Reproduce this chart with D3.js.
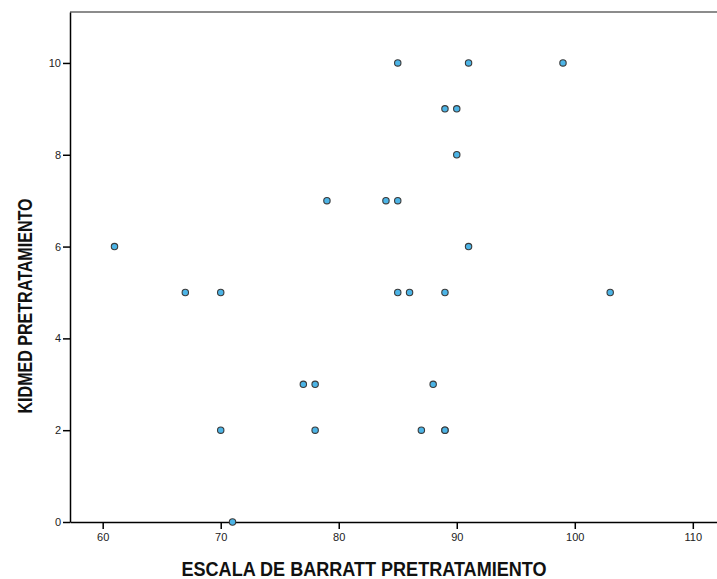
<!DOCTYPE html>
<html><head><meta charset="utf-8">
<script src="https://cdn.jsdelivr.net/npm/d3@7"></script>
<style>body{margin:0;background:#fff}svg{display:block}</style>
</head><body>
<svg id="c" width="717" height="579"></svg>
<script>
const barratt = [61,67,70,70,71,77,78,78,79,84,85,85,85,86,87,88,89,89,89,89,90,90,91,91,99,103];
const kidmed  = [ 6, 5, 5, 2, 0, 3, 3, 2, 7, 7, 7,10, 5, 5, 2, 3, 2, 2, 5, 9, 9, 8,10, 6,10, 5];
const xTicks = [60,70,80,90,100,110];
const yTicks = [0,2,4,6,8,10];
const xTitle = "ESCALA DE BARRATT PRETRATAMIENTO";
const yTitle = "KIDMED PRETRATAMIENTO";

const svg = d3.select("#c");
const L = 70, R = 717, T = 12, B = 522;
const x = d3.scaleLinear().domain([57.23, 112.05]).range([L, R]);
const y = d3.scaleLinear().domain([0, 11.11]).range([B, T]);

// top border
svg.append("line").attr("x1", L).attr("x2", R).attr("y1", T).attr("y2", T)
  .attr("stroke", "#8c8c8c").attr("stroke-width", 2);

const fontT = "Arial, 'Liberation Sans', sans-serif";
const xa = svg.append("g").attr("transform", `translate(0,${B})`)
  .call(d3.axisBottom(x).tickValues(xTicks).tickSize(7).tickSizeOuter(0).tickPadding(4));
const ya = svg.append("g").attr("transform", `translate(${L},0)`)
  .call(d3.axisLeft(y).tickValues(yTicks).tickSize(7).tickSizeOuter(0).tickPadding(2));
[xa, ya].forEach(g => {
  g.select(".domain").attr("stroke", "#000").attr("stroke-width", 1.5);
  g.selectAll(".tick line").attr("stroke", "#000").attr("stroke-width", 1.5);
  g.selectAll(".tick text").attr("fill", "#222").style("font-family", fontT).style("font-size", "11px");
});

svg.append("g").selectAll("circle").data(barratt).join("circle")
  .attr("cx", (d) => x(d)).attr("cy", (d, i) => y(kidmed[i])).attr("r", 3.2)
  .attr("fill", "#4cb4e6").attr("stroke", "#3a3a3a").attr("stroke-width", 1.1);

const fontL = "'Liberation Sans Narrow', 'Arial Narrow', 'Liberation Sans', Arial, sans-serif";
svg.append("text").attr("x", 364).attr("y", 576).attr("text-anchor", "middle")
  .attr("textLength", 365).attr("lengthAdjust", "spacingAndGlyphs")
  .style("font-family", fontL).style("font-weight", "bold").style("font-size", "21px").attr("fill", "#111")
  .text(xTitle);
svg.append("text").attr("transform", "translate(32,306) rotate(-90)").attr("text-anchor", "middle")
  .attr("textLength", 215).attr("lengthAdjust", "spacingAndGlyphs")
  .style("font-family", fontL).style("font-weight", "bold").style("font-size", "21px").attr("fill", "#111")
  .text(yTitle);
</script>
</body></html>
